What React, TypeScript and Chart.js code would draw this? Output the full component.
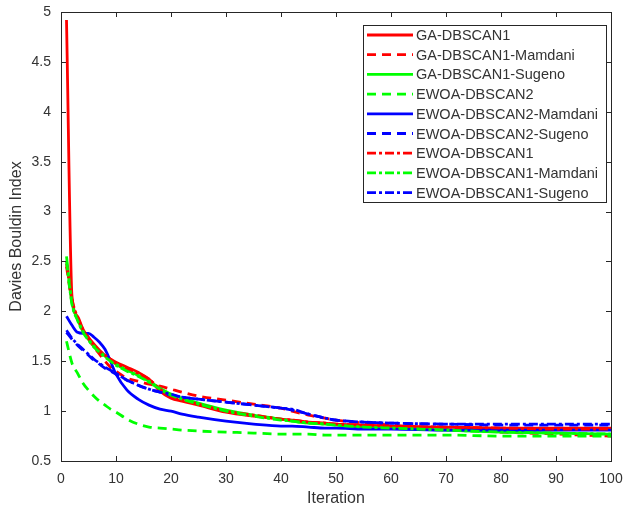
import React, { useEffect, useRef } from "react";
import { Chart, registerables } from "chart.js";

Chart.register(...registerables);

// Iterations at which the Davies-Bouldin index is sampled
const iterations = [1, 2, 3, 4, 5, 6, 7, 8, 9, 10, 12, 14, 16, 18, 20, 22, 25, 30, 35, 40, 42, 45, 48, 50, 55, 60, 70, 80, 90, 100];

const gaDbscan1 = [4.92, 2.15, 1.95, 1.82, 1.74, 1.67, 1.61, 1.56, 1.52, 1.49, 1.44, 1.39, 1.32, 1.2, 1.13, 1.1, 1.06, 0.99, 0.95, 0.92, 0.91, 0.89, 0.88, 0.87, 0.86, 0.85, 0.84, 0.83, 0.83, 0.83];
const gaDbscan1Mamdani = [2.45, 2.1, 1.93, 1.8, 1.72, 1.64, 1.57, 1.5, 1.44, 1.4, 1.33, 1.3, 1.27, 1.25, 1.22, 1.19, 1.15, 1.11, 1.07, 1.03, 1.0, 0.96, 0.93, 0.91, 0.88, 0.86, 0.82, 0.79, 0.77, 0.75];
const gaDbscan1Sugeno = [2.55, 2.08, 1.92, 1.8, 1.72, 1.65, 1.6, 1.55, 1.51, 1.47, 1.41, 1.36, 1.3, 1.23, 1.17, 1.13, 1.08, 1.01, 0.96, 0.92, 0.9, 0.88, 0.87, 0.86, 0.84, 0.83, 0.81, 0.79, 0.78, 0.77];
const ewoaDbscan2 = [1.7, 1.48, 1.38, 1.28, 1.21, 1.15, 1.1, 1.06, 1.02, 0.99, 0.92, 0.87, 0.84, 0.83, 0.82, 0.81, 0.8, 0.79, 0.78, 0.77, 0.77, 0.77, 0.76, 0.76, 0.76, 0.76, 0.76, 0.75, 0.75, 0.75];
const ewoaDbscan2Mamdani = [1.95, 1.86, 1.79, 1.78, 1.78, 1.74, 1.69, 1.62, 1.5, 1.37, 1.21, 1.12, 1.06, 1.02, 1.0, 0.97, 0.94, 0.9, 0.87, 0.85, 0.85, 0.84, 0.83, 0.83, 0.82, 0.82, 0.81, 0.81, 0.81, 0.81];
const ewoaDbscan2Sugeno = [1.79, 1.72, 1.66, 1.61, 1.56, 1.51, 1.47, 1.43, 1.4, 1.37, 1.31, 1.26, 1.22, 1.19, 1.16, 1.14, 1.12, 1.09, 1.06, 1.03, 1.01, 0.97, 0.93, 0.91, 0.89, 0.88, 0.87, 0.86, 0.86, 0.86];
const ewoaDbscan1 = [2.48, 2.12, 1.94, 1.82, 1.73, 1.66, 1.6, 1.56, 1.52, 1.48, 1.43, 1.38, 1.32, 1.22, 1.14, 1.11, 1.07, 1.0, 0.96, 0.92, 0.91, 0.89, 0.88, 0.87, 0.86, 0.85, 0.84, 0.83, 0.82, 0.82];
const ewoaDbscan1Mamdani = [2.5, 2.07, 1.91, 1.79, 1.71, 1.64, 1.59, 1.54, 1.5, 1.46, 1.4, 1.35, 1.29, 1.22, 1.16, 1.12, 1.07, 1.0, 0.95, 0.91, 0.9, 0.88, 0.87, 0.86, 0.84, 0.83, 0.81, 0.79, 0.78, 0.77];
const ewoaDbscan1Sugeno = [1.81, 1.73, 1.67, 1.62, 1.57, 1.52, 1.48, 1.44, 1.41, 1.38, 1.31, 1.26, 1.22, 1.19, 1.17, 1.14, 1.12, 1.09, 1.06, 1.03, 1.02, 0.97, 0.93, 0.91, 0.89, 0.88, 0.87, 0.87, 0.87, 0.87];

const xTickValues = [0, 10, 20, 30, 40, 50, 60, 70, 80, 90, 100];
const yTickValues = [0.5, 1, 1.5, 2, 2.5, 3, 3.5, 4, 4.5, 5];

const RED = "rgb(255,0,0)";
const GREEN = "rgb(0,255,0)";
const BLUE = "rgb(0,0,255)";
const SOLID: number[] = [];
const DASHED = [9, 6];
const DASH_DOT = [9, 3, 3, 3];

const seriesList = [
  { label: "GA-DBSCAN1", values: gaDbscan1, color: RED, dash: SOLID },
  { label: "GA-DBSCAN1-Mamdani", values: gaDbscan1Mamdani, color: RED, dash: DASHED },
  { label: "GA-DBSCAN1-Sugeno", values: gaDbscan1Sugeno, color: GREEN, dash: SOLID },
  { label: "EWOA-DBSCAN2", values: ewoaDbscan2, color: GREEN, dash: DASHED },
  { label: "EWOA-DBSCAN2-Mamdani", values: ewoaDbscan2Mamdani, color: BLUE, dash: SOLID },
  { label: "EWOA-DBSCAN2-Sugeno", values: ewoaDbscan2Sugeno, color: BLUE, dash: DASHED },
  { label: "EWOA-DBSCAN1", values: ewoaDbscan1, color: RED, dash: DASH_DOT },
  { label: "EWOA-DBSCAN1-Mamdani", values: ewoaDbscan1Mamdani, color: GREEN, dash: DASH_DOT },
  { label: "EWOA-DBSCAN1-Sugeno", values: ewoaDbscan1Sugeno, color: BLUE, dash: DASH_DOT },
];

const FONT = "'Liberation Sans', Arial, Helvetica, sans-serif";
const AXIS_COLOR = "#262626";
const TEXT_COLOR = "#333333";
const LINE_WIDTH = 2.8;

// Axes box with inward tick marks on all four sides
const frameTicks = {
  id: "frameTicks",
  afterDatasetsDraw(chart: any) {
    const { ctx, chartArea, scales } = chart;
    const { left, right, top, bottom } = chartArea;
    const len = 5;
    ctx.save();
    ctx.strokeStyle = AXIS_COLOR;
    ctx.lineWidth = 1;
    ctx.setLineDash([]);
    ctx.beginPath();
    xTickValues.forEach((v) => {
      const px = Math.round(scales.x.getPixelForValue(v)) + 0.5;
      ctx.moveTo(px, bottom);
      ctx.lineTo(px, bottom - len);
      ctx.moveTo(px, top);
      ctx.lineTo(px, top + len);
    });
    yTickValues.forEach((v) => {
      const py = Math.round(scales.y.getPixelForValue(v)) + 0.5;
      ctx.moveTo(left, py);
      ctx.lineTo(left + len, py);
      ctx.moveTo(right, py);
      ctx.lineTo(right - len, py);
    });
    ctx.stroke();
    ctx.strokeRect(Math.round(left) + 0.5, Math.round(top) + 0.5, Math.round(right - left), Math.round(bottom - top));
    ctx.restore();
  },
};

// Boxed legend in the upper right corner of the plot
const boxLegend = {
  id: "boxLegend",
  afterDraw(chart: any) {
    const { ctx, chartArea } = chart;
    const boxRight = chartArea.right - 5;
    const boxTop = chartArea.top + 13;
    const boxW = 243;
    const rowH = 19.7;
    const boxH = 177;
    const boxLeft = boxRight - boxW;
    ctx.save();
    ctx.fillStyle = "#ffffff";
    ctx.fillRect(boxLeft, boxTop, boxW, boxH);
    ctx.strokeStyle = AXIS_COLOR;
    ctx.lineWidth = 1;
    ctx.setLineDash([]);
    ctx.strokeRect(Math.round(boxLeft) + 0.5, Math.round(boxTop) + 0.5, boxW, boxH);
    ctx.font = `14.5px ${FONT}`;
    ctx.textBaseline = "middle";
    ctx.textAlign = "left";
    chart.data.datasets.forEach((ds: any, i: number) => {
      const cy = boxTop + 10 + i * rowH;
      ctx.strokeStyle = ds.borderColor;
      ctx.lineWidth = LINE_WIDTH;
      ctx.lineCap = "butt";
      ctx.setLineDash(ds.borderDash || []);
      ctx.beginPath();
      ctx.moveTo(boxLeft + 4, cy);
      ctx.lineTo(boxLeft + 50, cy);
      ctx.stroke();
      ctx.setLineDash([]);
      ctx.fillStyle = TEXT_COLOR;
      ctx.fillText(ds.label, boxLeft + 53, cy + 1);
    });
    ctx.restore();
  },
};

export default function App() {
  const canvasRef = useRef<HTMLCanvasElement | null>(null);

  useEffect(() => {
    if (!canvasRef.current) return;
    const n = seriesList.length;
    const chart = new Chart(canvasRef.current, {
      type: "line",
      data: {
        datasets: seriesList.map((s, i) => ({
          label: s.label,
          data: iterations.map((it, k) => ({ x: it, y: s.values[k] })),
          borderColor: s.color,
          backgroundColor: s.color,
          borderDash: s.dash,
          borderWidth: LINE_WIDTH,
          borderCapStyle: "butt",
          pointRadius: 0,
          fill: false,
          cubicInterpolationMode: "monotone",
          order: n - i,
        })),
      },
      options: {
        animation: false,
        responsive: false,
        devicePixelRatio: 1,
        layout: { padding: { top: 12, right: 14, left: 0, bottom: 0 } },
        plugins: {
          legend: { display: false },
          tooltip: { enabled: false },
        },
        scales: {
          x: {
            type: "linear",
            min: 0,
            max: 100,
            afterBuildTicks(scale: any) {
              scale.ticks = xTickValues.map((v) => ({ value: v }));
            },
            ticks: {
              color: TEXT_COLOR,
              font: { family: FONT, size: 14 },
              padding: 10,
              maxRotation: 0,
              autoSkip: false,
            },
            grid: { display: false, drawTicks: false },
            border: { display: false },
            title: {
              display: true,
              text: "Iteration",
              color: TEXT_COLOR,
              font: { family: FONT, size: 16 },
              padding: { top: 0, bottom: 3 },
            },
            afterFit(scale: any) {
              scale.height = 50;
              scale.paddingLeft = 0;
              scale.paddingRight = 0;
            },
          },
          y: {
            type: "linear",
            min: 0.5,
            max: 5,
            afterBuildTicks(scale: any) {
              scale.ticks = yTickValues.map((v) => ({ value: v }));
            },
            ticks: {
              color: TEXT_COLOR,
              font: { family: FONT, size: 14 },
              padding: 10,
              autoSkip: false,
              callback: (v: any) => String(v),
            },
            grid: { display: false, drawTicks: false },
            border: { display: false },
            title: {
              display: true,
              text: "Davies Bouldin Index",
              color: TEXT_COLOR,
              font: { family: FONT, size: 16 },
              padding: { top: 7, bottom: 0 },
            },
            afterFit(scale: any) {
              scale.width = 61;
              scale.paddingTop = 0;
              scale.paddingBottom = 0;
            },
          },
        },
      },
      plugins: [frameTicks, boxLegend],
    } as any);
    return () => chart.destroy();
  }, []);

  return (
    <div style={{ position: "fixed", left: 0, top: 0, width: 625, height: 511, background: "#ffffff" }}>
      <canvas ref={canvasRef} width={625} height={511} />
    </div>
  );
}
